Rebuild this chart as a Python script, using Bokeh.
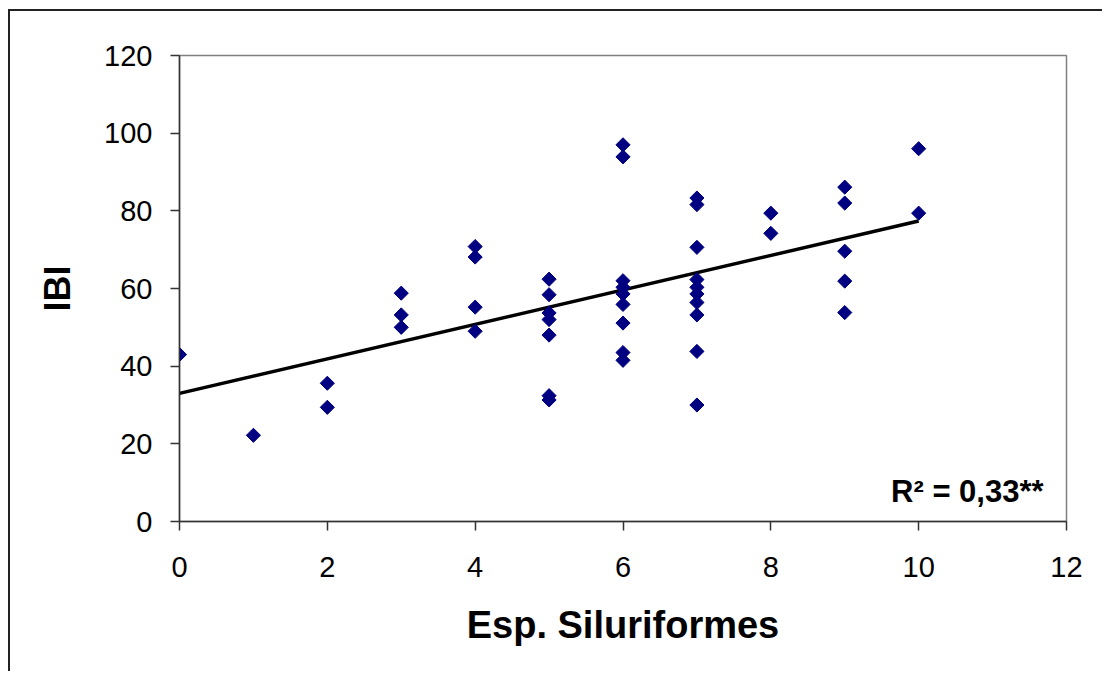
import math
from bokeh.plotting import figure
from bokeh.models import Range1d, FixedTicker, Label
from bokeh.embed import file_html
from bokeh.resources import INLINE

# ---- data ----
esp_x = [0,
         1,
         2, 2,
         3, 3, 3,
         4, 4, 4, 4,
         5, 5, 5, 5, 5, 5, 5,
         6, 6, 6, 6, 6, 6, 6, 6, 6,
         7, 7, 7, 7, 7, 7, 7, 7, 7, 7,
         8, 8,
         9, 9, 9, 9, 9,
         10, 10]
ibi_y = [43.0,
         22.2,
         35.6, 29.4,
         58.8, 53.2, 50.0,
         70.8, 68.1, 55.2, 49.0,
         62.4, 58.4, 53.7, 52.0, 48.0, 32.4, 31.3,
         97.0, 93.9, 62.0, 60.3, 58.6, 55.9, 51.1, 43.5, 41.5,
         83.3, 81.6, 70.6, 62.3, 60.3, 58.6, 56.4, 53.2, 43.8, 30.0,
         79.4, 74.2,
         86.1, 82.0, 69.6, 61.9, 53.8,
         96.0, 79.4]
trend_x = [0, 10]
trend_y = [33.0, 77.4]
x_ticks = [0, 2, 4, 6, 8, 10, 12]
y_ticks = [0, 20, 40, 60, 80, 100, 120]
r2_text = "R² = 0,33**"

FONT = "Liberation Sans"

W, H = 1094, 662
p = figure(width=W, height=H, output_backend="svg", toolbar_location=None,
           x_range=Range1d(0, 12), y_range=Range1d(0, 120),
           min_border_left=169, min_border_right=38,
           min_border_top=44, min_border_bottom=152)
p.margin = (9, 0, 0, 8)
p.styles = {"border-left": "2px solid #222222", "border-top": "2px solid #222222"}

p.background_fill_color = "white"
p.border_fill_color = "white"
p.outline_line_color = "#808080"
p.outline_line_width = 1.5
p.xgrid.visible = False
p.ygrid.visible = False

for ax in (p.xaxis[0], p.yaxis[0]):
    ax.axis_line_color = "#333333"
    ax.axis_line_width = 1.5
    ax.major_tick_line_color = "#333333"
    ax.major_tick_line_width = 1.5
    ax.major_tick_in = 0
    ax.major_tick_out = 9
    ax.minor_tick_line_color = None
    ax.major_label_text_font = FONT
    ax.major_label_text_font_size = "29px"
    ax.major_label_text_color = "black"
    ax.axis_label_text_font = FONT
    ax.axis_label_text_font_style = "bold"
    ax.axis_label_text_color = "black"

p.xaxis.axis_label_text_font_size = "38px"
p.yaxis.axis_label_text_font_size = "36px"
p.xaxis.ticker = FixedTicker(ticks=x_ticks)
p.yaxis.ticker = FixedTicker(ticks=y_ticks)
p.xaxis.axis_label = "Esp. Siluriformes"
p.yaxis.axis_label = "IBI"
p.xaxis.major_label_standoff = 26
p.yaxis.major_label_standoff = 18
p.xaxis.axis_label_standoff = 24
p.yaxis.axis_label_standoff = 23

p.line(trend_x, trend_y, line_color="black", line_width=3.5)
p.scatter(esp_x, ibi_y, marker="square", angle=math.pi / 4, size=10,
          fill_color="#000080", line_color="#000080")

p.add_layout(Label(x=11.69, y=7.6, text=r2_text, text_align="right",
                   text_baseline="alphabetic", text_font=FONT,
                   text_font_style="bold", text_font_size="31px",
                   text_color="black"))

open("out.html", "w").write(file_html(p, INLINE))
